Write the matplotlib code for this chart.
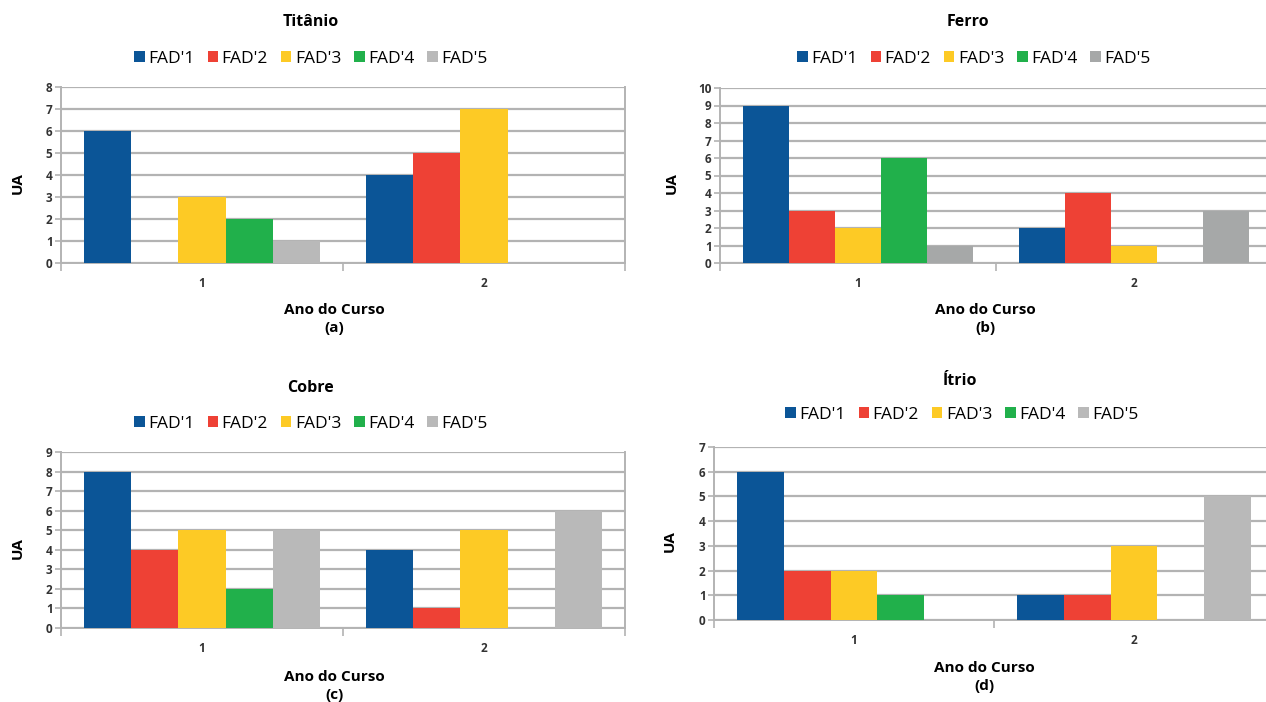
import numpy as np
import matplotlib.pyplot as plt

plt.rcParams['font.family'] = ['Open Sans', 'DejaVu Sans']

anos = ["1", "2"]
series = ["FAD'1", "FAD'2", "FAD'3", "FAD'4", "FAD'5"]
cores = ['#0b5597', '#ee4135', '#fdca25', '#21b04b', '#b9b9b9']

# valores por elemento: cada linha é um FAD, colunas = ano 1, ano 2
titanio = [[6, 4], [0, 5], [3, 7], [2, 0], [1, 0]]
ferro = [[9, 2], [3, 4], [2, 1], [6, 0], [1, 3]]
cobre = [[8, 4], [4, 1], [5, 5], [2, 0], [5, 6]]
itrio = [[6, 1], [2, 1], [2, 3], [1, 0], [0, 5]]

W, H = 1266, 702
fig = plt.figure(figsize=(W / 100, H / 100), dpi=100)


def px(x, y):
    return x / W, 1 - y / H


def painel(rect, dados, ymax, titulo, letra, tpos, lpos, xlab, ylab_x, cinza):
    # rect em pixels: esquerda, topo, direita, base
    l, t, r, b = rect
    ax = fig.add_axes([l / W, 1 - b / H, (r - l) / W, (b - t) / H])
    x = np.arange(1, len(anos) + 1)
    w = 0.167
    cs = list(cores)
    cs[4] = cinza
    for i, s in enumerate(series):
        ax.bar(x + (i - 2) * w, dados[i], w, color=cs[i], label=s, zorder=3)
    ax.set_xlim(0.5, len(anos) + 0.5)
    ax.set_ylim(0, ymax)
    ax.set_yticks(range(0, ymax + 1))
    ax.set_xticks(np.arange(0.5, len(anos) + 1, 1))
    ax.set_xticklabels([])
    ax.set_xticks(x, minor=True)
    ax.set_xticklabels(anos, minor=True)
    ax.tick_params(axis='x', which='major', length=6, color='#b3b3b3', width=1.2)
    ax.tick_params(axis='x', which='minor', length=0, pad=10, labelsize=8.5)
    ax.tick_params(axis='y', length=4, color='#b3b3b3', width=1.2, labelsize=8.5, pad=2)
    for lab in ax.get_yticklabels() + ax.get_xticklabels(minor=True):
        lab.set_fontweight('bold')
        lab.set_color('#333333')
    ax.grid(axis='y', color='#b3b3b3', linewidth=1.6, zorder=0)
    for sp in ax.spines.values():
        sp.set_color('#b3b3b3')
        sp.set_linewidth(1.4)
    ax.spines['top'].set_visible(False)

    fig.text(*px(*tpos), titulo, ha='center', va='center', fontsize=11.5, fontweight='bold')
    fig.legend(*ax.get_legend_handles_labels(), loc='center', bbox_to_anchor=px(*lpos),
               ncol=5, frameon=False, fontsize=12.5, handlelength=0.6, handleheight=0.6,
               handletextpad=0.2, columnspacing=0.75, borderaxespad=0)
    fig.text(*px(xlab[0], xlab[1]), 'Ano do Curso', ha='center', va='center',
             fontsize=11, fontweight='bold')
    fig.text(*px(xlab[0], xlab[1] + 18), '(' + letra + ')', ha='center', va='center',
             fontsize=11, fontweight='bold')
    fig.text(*px(ylab_x, (t + b) / 2 + 8), 'UA', ha='center', va='center',
             rotation=90, fontsize=11, fontweight='bold')
    return ax


painel((61, 87, 625, 263), titanio, 8, 'Titânio', 'a', (311, 22), (311, 59), (334, 310), 18, '#b9b9b9')
painel((720, 88, 1272, 263), ferro, 10, 'Ferro', 'b', (968, 22), (974, 59), (985, 310), 672, '#a6a8a8')
painel((61, 452, 625, 628), cobre, 9, 'Cobre', 'c', (311, 388), (311, 424), (334, 677), 18, '#b9b9b9')
painel((714, 447, 1274, 620), itrio, 7, 'Ítrio', 'd', (960, 381), (962, 415), (984, 668), 670, '#b9b9b9')

plt.savefig('out.png', dpi=100)
